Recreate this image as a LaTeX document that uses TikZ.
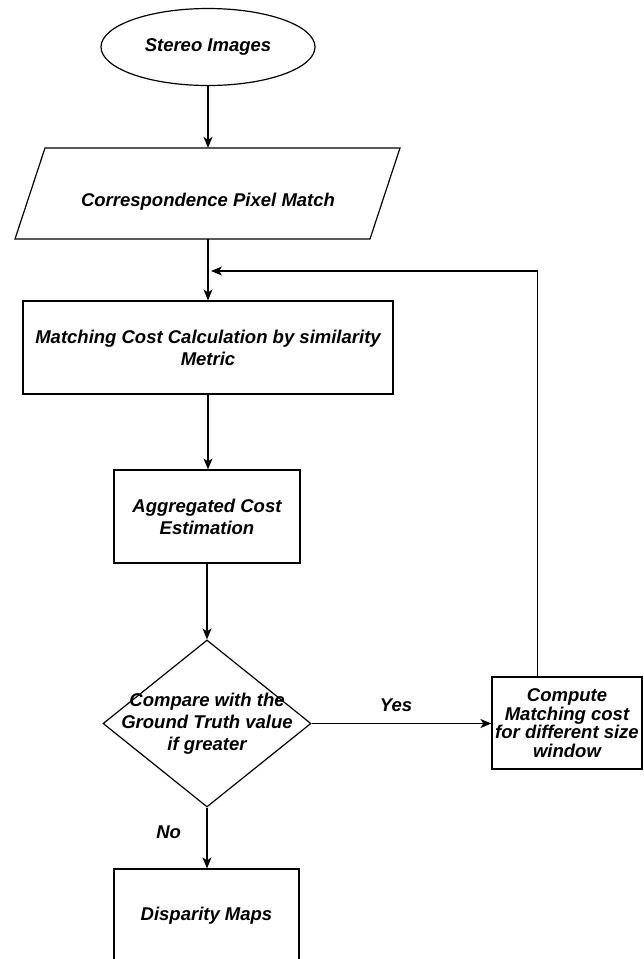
\documentclass[tikz,border=0pt]{standalone}
\usepackage{fontspec}
\setmainfont{Liberation Sans}
\usetikzlibrary{shapes.geometric,arrows.meta,calc}
\tikzset{
  lbl/.style={font=\fontsize{18.5}{22}\selectfont\bfseries\itshape},
  boxnode/.style={draw, line width=1.2pt, rectangle, inner sep=0pt, lbl, align=center},
  flow/.style={line width=1.4pt, -{Stealth[length=11pt,width=9pt,inset=3pt]}}
}
\begin{document}
\begin{tikzpicture}[x=1pt,y=-1pt]
\useasboundingbox (0,0) rectangle (643,959);
\clip (0,0) rectangle (643,959);
% Stereo Images
\node[draw, ellipse, line width=1.2pt, minimum width=214, minimum height=77, inner sep=0pt, lbl] (si) at (208,47) {Stereo Images};
% parallelogram
\node[minimum width=325, minimum height=91, inner sep=0pt] (pm) at (208,193.5) {};
\draw[line width=1.2pt] (45,148) -- (400,148) -- (370,239) -- (15,239) -- cycle;
\node[lbl] (pmt) at (208,202) {Correspondence Pixel Match};
% matching cost
\node[boxnode, minimum width=370, minimum height=93] (mc) at (208,347.5) {Matching Cost Calculation by similarity\\Metric};
% aggregated
\node[boxnode, minimum width=186, minimum height=93] (ag) at (207,516.5) {Aggregated Cost\\Estimation};
% decision
\node[draw, diamond, line width=1.2pt, minimum width=208, minimum height=167, inner sep=0pt,
      label={[lbl, align=center]center:Compare with the\\Ground Truth value\\if greater}] (dc) at (207,723.5) {};
% compute
\node[boxnode, minimum width=150, minimum height=92, font=\fontsize{18.5}{18.5}\selectfont\bfseries\itshape] (cm) at (567,723) {Compute\\Matching cost\\for different size\\window};
% disparity
\node[boxnode, minimum width=185, minimum height=94] (dm) at (206.5,916) {Disparity Maps};
\coordinate (fb) at (211,271);
% connectors
\draw[flow] (si.south) -- (si.south |- pm.north);
\draw[flow] (pm.south) -- (mc.north);
\draw[flow] (mc.south) -- (mc.south |- ag.north);
\draw[flow] (ag.south) -- (ag.south |- dc.north);
\draw[flow] (dc.east) -- node[lbl, above=8pt, pos=0.47] (yes) {Yes} (dc.east -| cm.west);
\draw[flow] ($(cm.north west)+(46,0)$) |- (fb);
\draw[flow] (dc.south) -- node[lbl, left=22pt, pos=0.4] (no) {No} (dc.south |- dm.north);
\end{tikzpicture}
\end{document}
